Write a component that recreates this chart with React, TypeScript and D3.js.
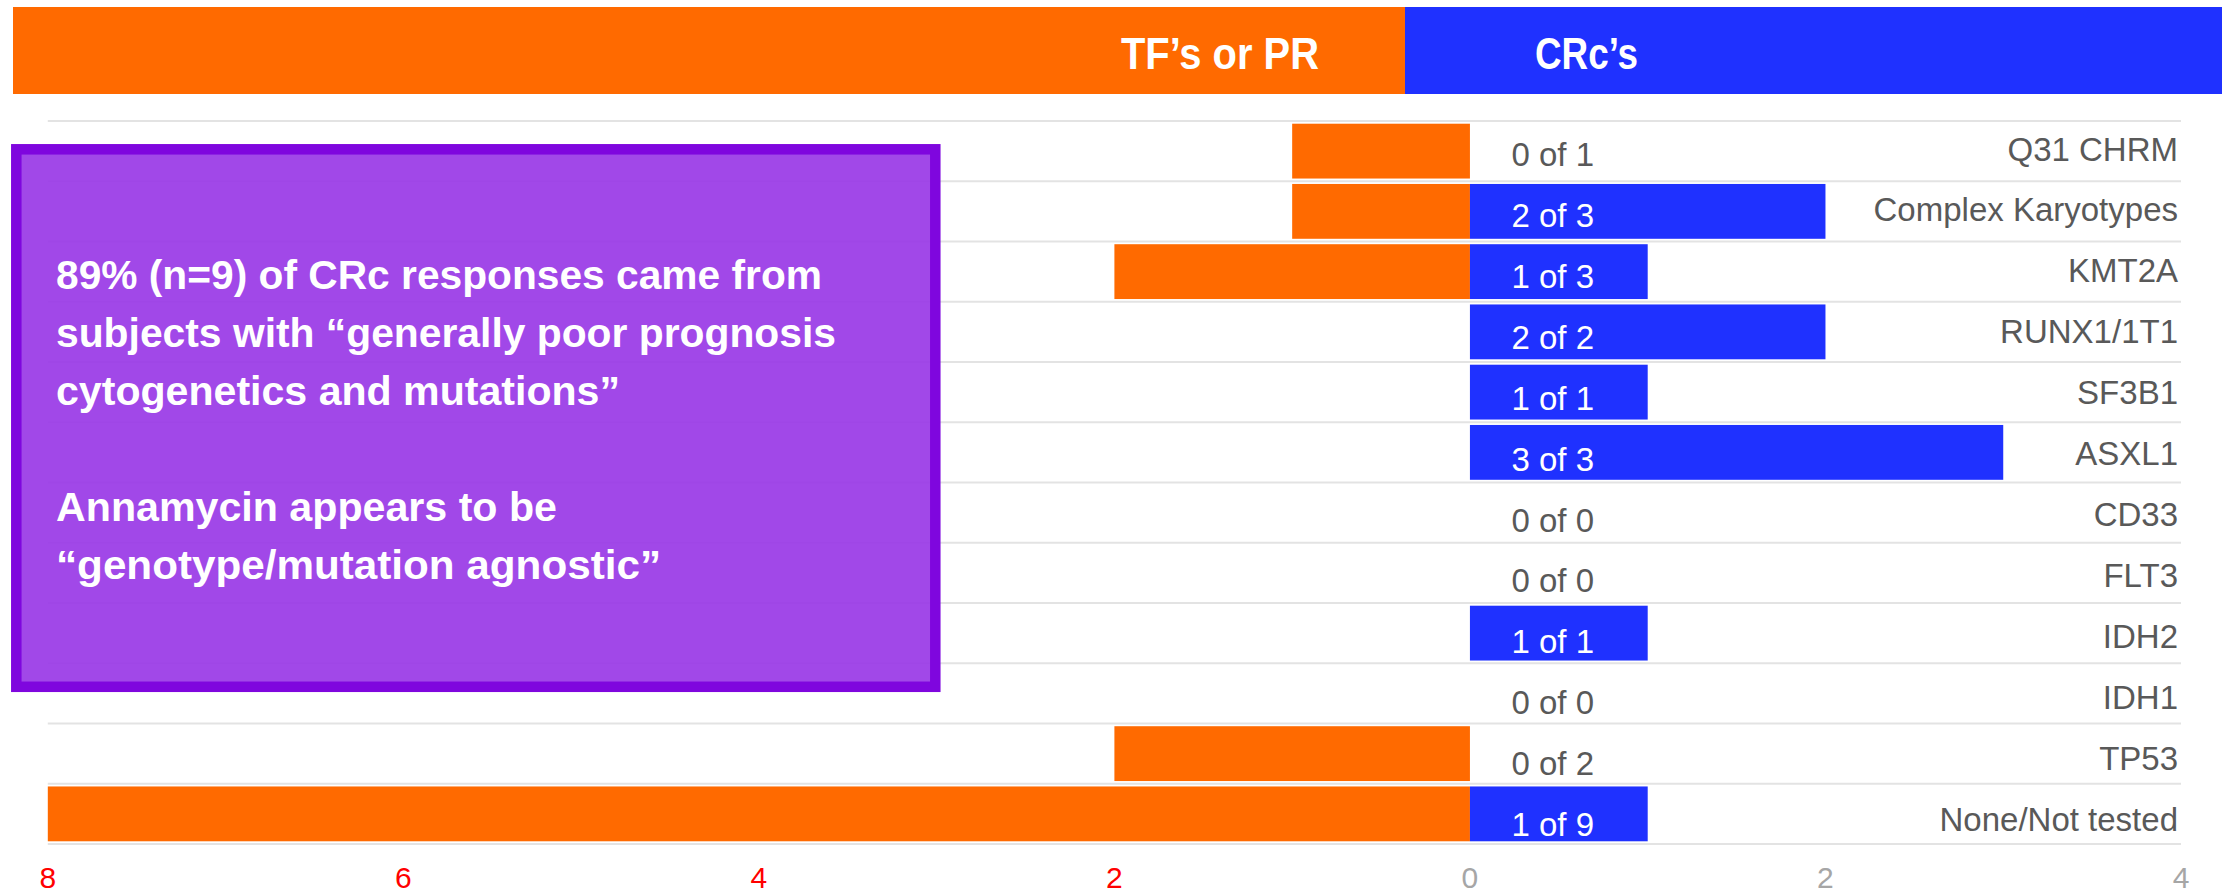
import React from "react";
import * as d3 from "d3";

const categories = [
  "Q31 CHRM",
  "Complex Karyotypes",
  "KMT2A",
  "RUNX1/1T1",
  "SF3B1",
  "ASXL1",
  "CD33",
  "FLT3",
  "IDH2",
  "IDH1",
  "TP53",
  "None/Not tested",
];
const tfOrPr = [1, 1, 2, 0, 0, 0, 0, 0, 0, 0, 2, 8];
const crc = [0, 2, 1, 2, 1, 3, 0, 0, 1, 0, 0, 1];
const totals = [1, 3, 3, 2, 1, 3, 0, 0, 1, 0, 2, 9];
const xTicks = [-8, -6, -4, -2, 0, 2, 4];
const headerLabels = ["TF’s or PR", "CRc’s"];
const boxLines = [
  "89% (n=9) of CRc responses came from",
  "subjects with “generally poor prognosis",
  "cytogenetics and mutations”",
  "",
  "Annamycin appears to be",
  "“genotype/mutation agnostic”",
];
const boxLineWidths = [766, 780, 564, 0, 501, 605];

const W = 2234;
const H = 896;
const ORANGE = "#FF6A00";
const BLUE = "#1F31FF";
const FONT = "'Liberation Sans', Arial, sans-serif";

export default function App() {
  const x = d3.scaleLinear().domain([-8, 4]).range([47.8, 2181]);
  const y = d3
    .scaleBand<string>()
    .domain(categories)
    .range([121, 844])
    .paddingInner(0.09)
    .paddingOuter(0.045);
  const yLab = d3.scaleBand<string>().domain(categories).range([120, 851]);
  const step = y.step();
  const gridYs = d3.range(categories.length + 1).map((i) => 121 + i * step);

  return (
    <svg
      width={W}
      height={H}
      style={{ position: "absolute", left: 0, top: 0, overflow: "hidden" }}
      fontFamily={FONT}
    >
      <rect x={0} y={0} width={W} height={H} fill="#ffffff" />
      {/* header */}
      <rect x={13} y={7} width={1405 - 13} height={87} fill={ORANGE} />
      <rect x={1405} y={7} width={2222 - 1405} height={87} fill={BLUE} />
      <text
        x={1121}
        y={69}
        fill="#fff"
        fontWeight="bold"
        fontSize={44}
        textLength={198}
        lengthAdjust="spacingAndGlyphs"
      >
        {headerLabels[0]}
      </text>
      <text
        x={1535}
        y={69}
        fill="#fff"
        fontWeight="bold"
        fontSize={44}
        textLength={103}
        lengthAdjust="spacingAndGlyphs"
      >
        {headerLabels[1]}
      </text>

      {/* gridlines */}
      {gridYs.map((gy, i) => (
        <line
          key={"g" + i}
          x1={x(-8)}
          x2={x(4)}
          y1={gy}
          y2={gy}
          stroke="#e3e3e3"
          strokeWidth={2.2}
        />
      ))}

      {/* bars */}
      {categories.map((c, i) =>
        tfOrPr[i] > 0 ? (
          <rect
            key={"o" + i}
            x={x(-tfOrPr[i])}
            y={y(c)}
            width={x(0) - x(-tfOrPr[i])}
            height={y.bandwidth()}
            fill={ORANGE}
          />
        ) : null
      )}
      {categories.map((c, i) =>
        crc[i] > 0 ? (
          <rect
            key={"b" + i}
            x={x(0)}
            y={y(c)}
            width={x(crc[i]) - x(0)}
            height={y.bandwidth()}
            fill={BLUE}
          />
        ) : null
      )}

      {/* value labels */}
      {categories.map((c, i) => (
        <text
          key={"v" + i}
          x={x(0) + 41.5}
          y={(yLab(c) as number) + 46}
          fontSize={33}
          fill={crc[i] > 0 ? "#ffffff" : "#595959"}
        >
          {`${crc[i]} of ${totals[i]}`}
        </text>
      ))}

      {/* category labels */}
      {categories.map((c, i) => (
        <text
          key={"c" + i}
          x={2178}
          y={(yLab(c) as number) + 40.5}
          fontSize={33}
          fill="#595959"
          textAnchor="end"
        >
          {c}
        </text>
      ))}

      {/* x ticks */}
      {xTicks.map((t) => (
        <text
          key={"t" + t}
          x={x(t)}
          y={888}
          fontSize={30}
          textAnchor="middle"
          fill={t < 0 ? "#FF0000" : "#A6A6A6"}
        >
          {Math.abs(t)}
        </text>
      ))}

      {/* annotation box */}
      <rect
        x={16.3}
        y={149.3}
        width={919}
        height={537.5}
        fill="#9a3ae6"
        fillOpacity={0.93}
        stroke="#7F06DE"
        strokeWidth={10.5}
      />
      {boxLines.map((l, i) =>
        l ? (
          <text
            key={"l" + i}
            x={56}
            y={289.3 + i * 57.85}
            fontSize={40}
            fontWeight="bold"
            fill="#ffffff"
            textLength={boxLineWidths[i]}
            lengthAdjust="spacingAndGlyphs"
          >
            {l}
          </text>
        ) : null
      )}
    </svg>
  );
}
